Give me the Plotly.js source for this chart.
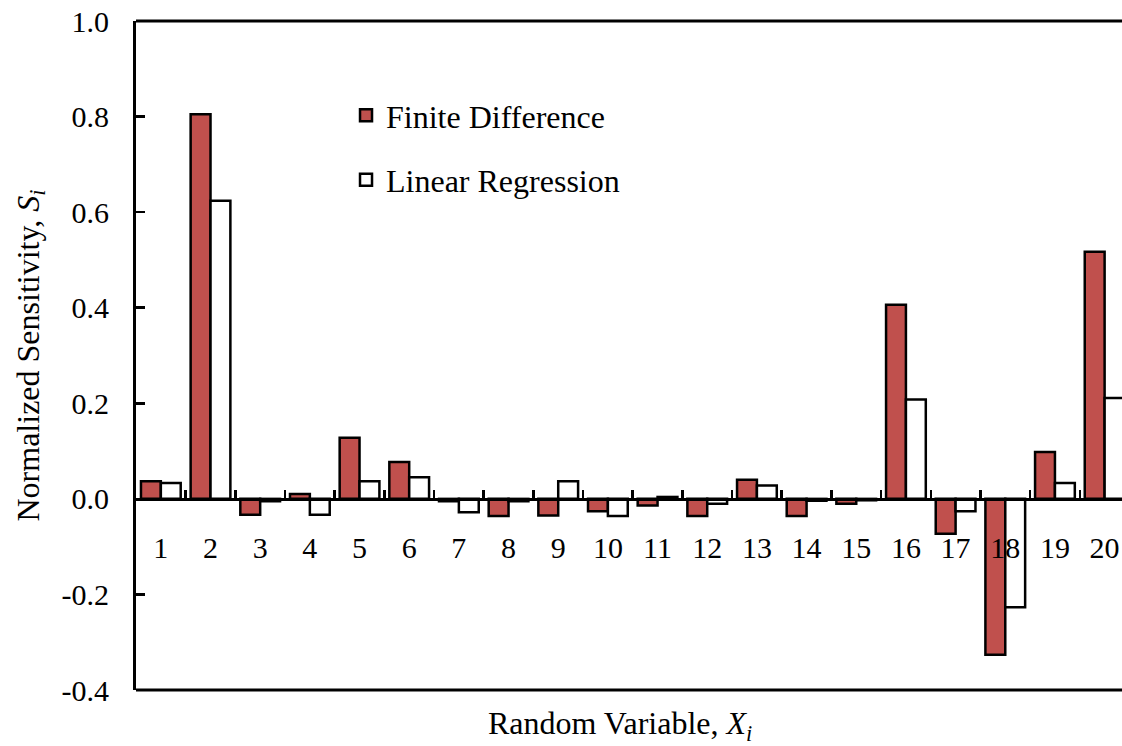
<!DOCTYPE html>
<html>
<head>
<meta charset="utf-8">
<script src="https://cdn.plot.ly/plotly-3.0.1.min.js"></script>
<style>html,body{margin:0;padding:0;background:#fff;}#chart{width:1122px;height:746px;}</style>
</head>
<body>
<div id="chart"></div>
<script>
const categories = ['1','2','3','4','5','6','7','8','9','10','11','12','13','14','15','16','17','18','19','20'];
const finiteDifference = [0.037, 0.805, -0.033, 0.010, 0.128, 0.077, -0.005, -0.036, -0.035, -0.026, -0.014, -0.036, 0.040, -0.036, -0.010, 0.406, -0.073, -0.326, 0.098, 0.517];
const linearRegression = [0.033, 0.624, -0.005, -0.033, 0.037, 0.045, -0.028, -0.005, 0.037, -0.036, 0.004, -0.010, 0.028, -0.004, -0.003, 0.208, -0.026, -0.227, 0.033, 0.211];
const yTicks = [-0.4, -0.2, 0.0, 0.2, 0.4, 0.6, 0.8, 1.0];
const yTickLabels = ['-0.4', '-0.2', '0.0', '0.2', '0.4', '0.6', '0.8', '1.0'];

const tickFont = {family: 'Liberation Serif', size: 30, color: '#000'};
const textFont = {family: 'Liberation Serif', size: 32, color: '#000'};

const traces = [
  {type: 'bar', name: 'Finite Difference', x: categories, y: finiteDifference,
   marker: {color: '#C0504D', line: {color: '#000', width: 2.5}}, legendgroup: 'a'},
  {type: 'bar', name: 'Linear Regression', x: categories, y: linearRegression,
   marker: {color: '#FFFFFF', line: {color: '#000', width: 2.5}}, legendgroup: 'b'}
];

const layout = {
  width: 1122, height: 746,
  margin: {l: 136, r: 0, t: 21, b: 56},
  paper_bgcolor: '#fff', plot_bgcolor: '#fff',
  font: textFont,
  barmode: 'group', bargap: 0.2, bargroupgap: 0,
  showlegend: true,
  legend: {x: 0.213, xanchor: 'left', y: 0.900, yanchor: 'top', font: textFont,
           bgcolor: 'rgba(0,0,0,0)', tracegroupgap: 20},
  xaxis: {type: 'category', range: [-0.5, 19.35], anchor: 'free', position: 0.4/1.4,
          showline: true, linecolor: '#000', linewidth: 3,
          ticks: 'inside', tickson: 'boundaries', ticklen: 8, tickwidth: 2.5, tickcolor: '#000',
          showgrid: false, zeroline: false, tickfont: tickFont, ticklabelstandoff: 21, fixedrange: true},
  yaxis: {range: [-0.4, 1.0], tickvals: yTicks, ticktext: yTickLabels,
          showline: true, linecolor: '#000', linewidth: 3,
          ticks: 'inside', ticklen: 9, tickwidth: 2.5, tickcolor: '#000',
          showgrid: false, zeroline: false, tickfont: tickFont, ticklabelstandoff: 18, fixedrange: true},
  shapes: [
    {type: 'line', xref: 'paper', yref: 'paper', x0: 0, x1: 1, y0: 1, y1: 1, line: {color: '#000', width: 3}},
    {type: 'line', xref: 'paper', yref: 'paper', x0: 0, x1: 1, y0: 0, y1: 0, line: {color: '#000', width: 3}}
  ],
  annotations: [
    {xref: 'paper', yref: 'paper', x: (30-136)/986, y: 0.5, xanchor: 'center', yanchor: 'middle',
     textangle: -90, showarrow: false, font: textFont,
     text: 'Normalized Sensitivity, <i>S</i><sub><i>i</i></sub>'},
    {xref: 'paper', yref: 'paper', x: (620-136)/986, y: (690-725)/669, xanchor: 'center', yanchor: 'middle',
     showarrow: false, font: textFont,
     text: 'Random Variable, <i>X</i><sub><i>i</i></sub>'}
  ]
};

Plotly.newPlot('chart', traces, layout, {displayModeBar: false, staticPlot: true});
</script>
</body>
</html>
